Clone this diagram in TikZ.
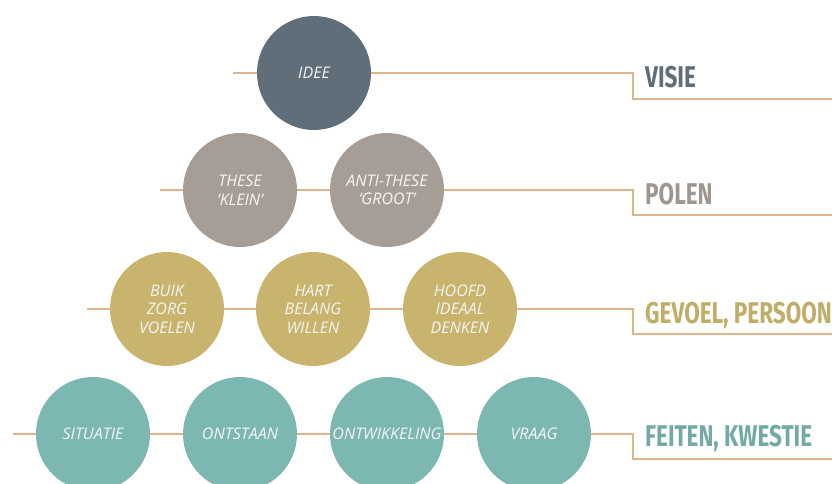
\documentclass[tikz,border=0pt]{standalone}
\usepackage{fontspec}
\setmainfont{Open Sans}
\newfontfamily\laagfont[FakeStretch=0.75]{Fira Sans}
\definecolor{ideekleur}{HTML}{5F6E78}
\definecolor{poolkleur}{HTML}{A69E96}
\definecolor{gevoelkleur}{HTML}{C8B46C}
\definecolor{feitkleur}{HTML}{7DB7B2}
\definecolor{lijnkleur}{HTML}{DEB68C}
\tikzset{>=stealth,
  bol/.style={circle, minimum size=114pt, inner sep=0pt, align=center,
    text=white!92!gray, font=\itshape\fontsize{16}{18.5}\selectfont},
  lijn/.style={draw=lijnkleur, line width=1.4pt},
  laag/.style={anchor=base west, inner sep=0pt,
    font=\laagfont\bfseries\fontsize{30}{30}\selectfont}}

\begin{document}
\begin{tikzpicture}[x=1pt,y=-1pt]
    \useasboundingbox (0,0) rectangle (832,483);
    % visie
    \node[bol, fill=ideekleur] (idee) at (314,73) {IDEE};
    % polen
    \node[bol, fill=poolkleur] (these) at (240,190) {THESE\\‘KLEIN’};
    \node[bol, fill=poolkleur] (anti) at (387,190) {ANTI-THESE\\‘GROOT’};
    % gevoel, persoon
    \node[bol, fill=gevoelkleur] (buik) at (167,309) {BUIK\\ZORG\\VOELEN};
    \node[bol, fill=gevoelkleur] (hart) at (313,309) {HART\\BELANG\\WILLEN};
    \node[bol, fill=gevoelkleur] (hoofd) at (460,309) {HOOFD\\IDEAAL\\DENKEN};
    % feiten, kwestie
    \node[bol, fill=feitkleur] (situatie) at (93,434) {SITUATIE};
    \node[bol, fill=feitkleur] (ontstaan) at (240,434) {ONTSTAAN};
    \node[bol, fill=feitkleur] (ontw) at (387,434) {ONTWIKKELING};
    \node[bol, fill=feitkleur] (vraag) at (534,434) {VRAAG};

    \coordinate (b1) at (233,73);  \coordinate (t1) at (633,73);  \coordinate (e1) at (832,99);
    \coordinate (b2) at (160,190); \coordinate (t2) at (633,190); \coordinate (e2) at (832,215);
    \coordinate (b3) at (87,309);  \coordinate (t3) at (633,309); \coordinate (e3) at (832,334);
    \coordinate (b4) at (13,434);  \coordinate (t4) at (633,434); \coordinate (e4) at (832,459);

    \draw[lijn] (b1) -- (idee) -- (t1) |- (e1);
    \draw[lijn] (b2) -- (these) -- (anti) -- (t2) |- (e2);
    \draw[lijn] (b3) -- (buik) -- (hart) -- (hoofd) -- (t3) |- (e3);
    \draw[lijn] (b4) -- (situatie) -- (ontstaan) -- (ontw) -- (vraag) -- (t4) |- (e4);

    \node[laag, text=ideekleur] (visie) at (645,87) {VISIE};
    \node[laag, text=poolkleur!95!black] (polen) at (645,204) {POLEN};
    \node[laag, text=gevoelkleur!96!black] (persoon) at (645,323) {GEVOEL, PERSOON};
    \node[laag, text=feitkleur!93!black] (kwestie) at (645,446) {FEITEN, KWESTIE};
\end{tikzpicture}
\end{document}
